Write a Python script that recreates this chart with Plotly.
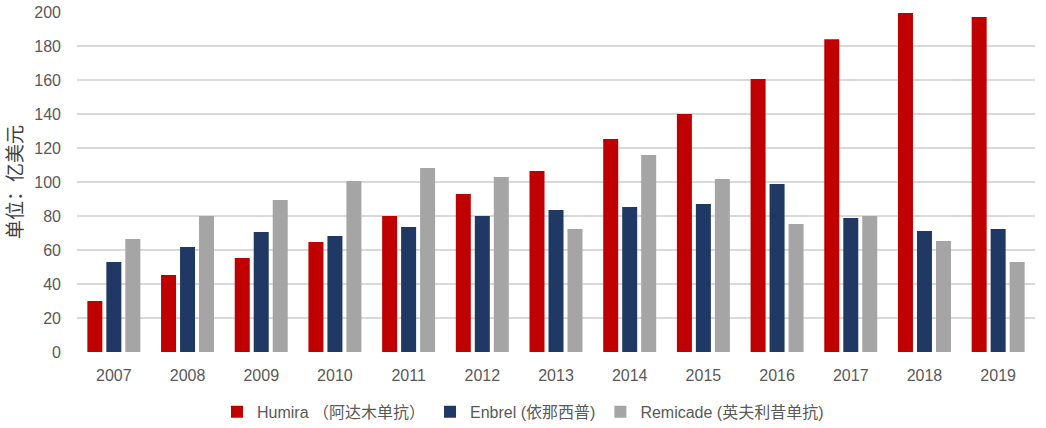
import plotly.graph_objects as go

years = ["2007", "2008", "2009", "2010", "2011", "2012", "2013",
         "2014", "2015", "2016", "2017", "2018", "2019"]
humira = [30, 45.3, 55.3, 64.7, 80, 92.9, 106.5, 125.3, 140, 160.6, 184, 199.4, 197]
enbrel = [53, 61.8, 70.6, 68.2, 73.5, 80, 83.5, 85.3, 87, 98.8, 78.8, 71.2, 72.4]
remicade = [66.5, 80, 89.4, 100.6, 108.3, 102.9, 72.4, 115.9, 101.8, 75.3, 80, 65.3, 53]

names = ["Humira （阿达木单抗）", "Enbrel (依那西普)", "Remicade (英夫利昔单抗)"]
colors = ["#C00000", "#203864", "#A5A5A5"]

fig = go.Figure()
for name, vals, col in zip(names, [humira, enbrel, remicade], colors):
    fig.add_trace(go.Bar(x=years, y=vals, name=name, marker_color=col,
                         marker_line_width=0))

font_fam = "Liberation Sans, Noto Sans CJK SC, sans-serif"
fig.update_layout(
    width=1046, height=428,
    margin=dict(l=77, r=11, t=12, b=76, autoexpand=False),
    paper_bgcolor="white", plot_bgcolor="white",
    barmode="group", bargap=0.227, bargroupgap=0.21,
    font=dict(family=font_fam, color="#595959", size=16),
    legend=dict(orientation="h", x=0.5, xanchor="center", xref="container",
                y=0.038, yanchor="middle", yref="container",
                font=dict(size=16, color="#595959", family=font_fam),
                itemwidth=30, traceorder="normal"),
    xaxis=dict(showgrid=False, showline=False, ticks="", zeroline=False,
               automargin=False, ticklabelstandoff=12,
               tickfont=dict(size=16, color="#595959")),
    yaxis=dict(range=[0, 200], dtick=20, showgrid=True, gridcolor="#D9D9D9",
               gridwidth=2, zeroline=False, showline=False, ticks="",
               automargin=False, ticklabelstandoff=15,
               tickfont=dict(size=16, color="#595959"),
               title=dict(text="单位：亿美元", standoff=14,
                          font=dict(size=19, color="#404040",
                                    family="Noto Sans CJK SC, sans-serif"))),
)

fig.write_html("out.html",
               config={"displayModeBar": False},
               post_script="document.body.style.margin='0';document.body.style.overflow='hidden';")
